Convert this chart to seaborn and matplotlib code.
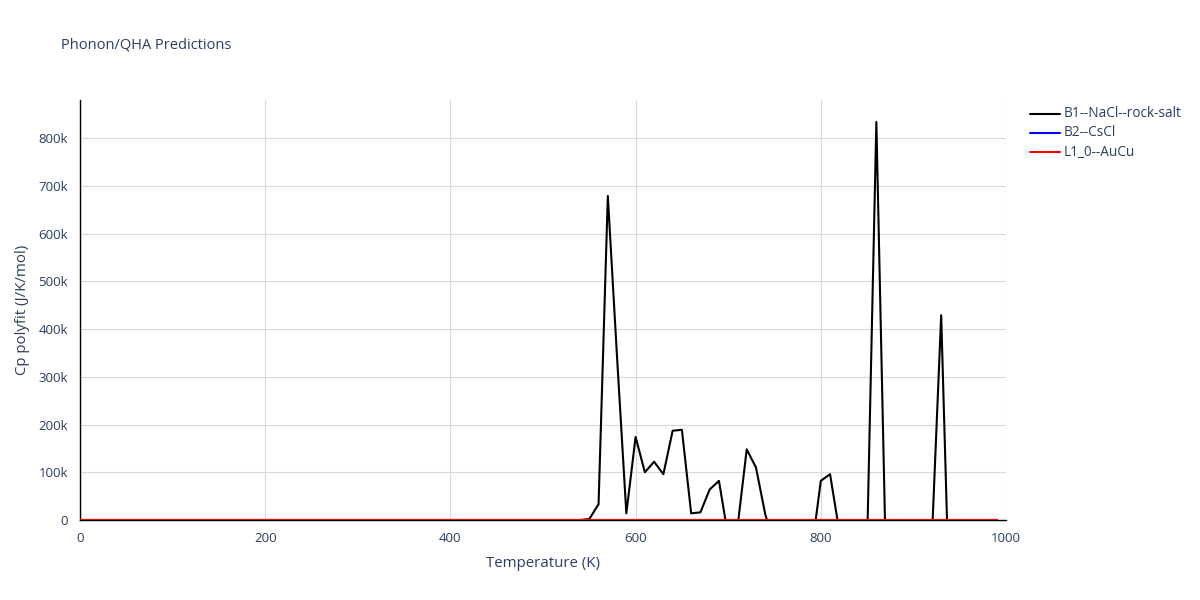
import matplotlib
matplotlib.use("Agg")
import matplotlib.pyplot as plt
import seaborn as sns
import pandas as pd
from matplotlib.ticker import FuncFormatter, MultipleLocator

# temperaturas cada 10 K
temperaturas = list(range(0, 1000, 10))

# B1: plano hasta 540 K, luego picos del ajuste polinomico
b1_plano = [0.0] * 55
b1_picos = [2e3, 33e3, 679e3, 340e3, 14e3, 174e3, 100e3, 122e3, 96e3, 187e3,
            189e3, 14e3, 16e3, 64e3, 82e3, -35e3, -16e3, 148e3, 110e3, 12e3,
            -50e3, -60e3, -60e3, -60e3, -67e3, 82e3, 96e3, -24e3, -40e3, -40e3,
            -53e3, 834e3, -63e3, -40e3, -40e3, -40e3, -40e3, -37e3, 429e3, -252e3,
            -60e3, -60e3, -60e3, -60e3, -60e3]
b1 = b1_plano + b1_picos
b2 = [0.0] * len(temperaturas)
l1 = [0.0] * len(temperaturas)

series = ["B1--NaCl--rock-salt", "B2--CsCl", "L1_0--AuCu"]
colores = ["black", "blue", "red"]

df = pd.concat([
    pd.DataFrame({"T": temperaturas, "Cp": b1, "fase": series[0]}),
    pd.DataFrame({"T": temperaturas, "Cp": b2, "fase": series[1]}),
    pd.DataFrame({"T": temperaturas, "Cp": l1, "fase": series[2]}),
])

sns.set_style("white")
plt.rcParams["font.family"] = ["Open Sans", "DejaVu Sans"]
texto = "#2a3f5f"

fig = plt.figure(figsize=(12, 6), dpi=100)
ax = fig.add_axes([80 / 1200, 80 / 600, 926 / 1200, 420 / 600])
sns.lineplot(data=df, x="T", y="Cp", hue="fase", palette=colores,
             hue_order=series, linewidth=1.5, ax=ax, legend=False)
for linea in ax.lines:
    linea.set_zorder(3)

ax.set_xlim(0, 1000)
ax.set_ylim(0, 880e3)
ax.xaxis.set_major_locator(MultipleLocator(200))
ax.xaxis.set_minor_locator(MultipleLocator(50))
ax.yaxis.set_major_locator(MultipleLocator(100e3))
ax.yaxis.set_minor_locator(MultipleLocator(20e3))
ax.yaxis.set_major_formatter(FuncFormatter(lambda v, p: "0" if v == 0 else f"{int(v / 1000)}k"))
ax.grid(True, which="major", color="#d9d9d9", linewidth=0.8)
ax.set_axisbelow(True)
for lado in ["top", "right"]:
    ax.spines[lado].set_visible(False)
for lado in ["left", "bottom"]:
    ax.spines[lado].set_color("black")
    ax.spines[lado].set_linewidth(1)
ax.tick_params(which="both", direction="out", color="black", labelcolor=texto, labelsize=9.5)
ax.tick_params(which="major", length=5, width=1)
ax.tick_params(which="minor", length=3, width=1)
ax.set_xlabel("Temperature (K)", color=texto, fontsize=10.8, labelpad=8)
ax.set_ylabel("Cp polyfit (J/K/mol)", color=texto, fontsize=10.8, labelpad=6)

fig.text(61 / 1200, 1 - 45 / 600, "Phonon/QHA Predictions", color=texto,
         fontsize=10.5, va="center", ha="left")

# leyenda a la derecha
for i, (nombre, color) in enumerate(zip(series, colores)):
    y = 1 - (114 + 19 * i) / 600
    fig.add_artist(plt.Line2D([1030 / 1200, 1060 / 1200], [y, y], color=color,
                              linewidth=1.5, transform=fig.transFigure))
    fig.text(1064 / 1200, y, nombre, color=texto, fontsize=9.8, va="center", ha="left")

plt.savefig("out.png", dpi=100)
plt.close()
